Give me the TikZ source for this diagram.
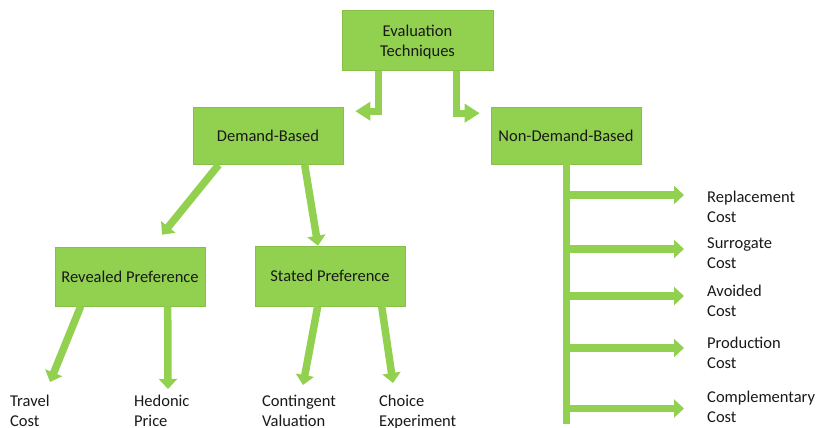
\documentclass[tikz,border=0pt]{standalone}
\usepackage{fontspec}
\setmainfont{Carlito}
\usetikzlibrary{arrows.meta,calc}
\definecolor{gr}{HTML}{92D050}
\definecolor{grb}{HTML}{86C046}
\begin{document}
\begin{tikzpicture}[x=1pt,y=-1pt,
  txt/.style={font=\fontsize{16.5}{20}\selectfont, text=black!90},
  box/.style={txt, fill=gr, draw=grb, line width=0.6pt, minimum width=150pt, minimum height=57pt, inner sep=0pt, align=center},
  lbl/.style={txt, anchor=north west, align=left, inner sep=0pt, execute at begin node=\strut},
  arr/.style={draw=gr, line width=7.5pt, -{Triangle[length=10pt,width=18pt]}},
  elarr/.style={draw=gr, line width=7pt, line join=miter, -{Triangle[length=15pt,width=18pt]}},
  vline/.style={draw=gr, line width=6.5pt},
]
\useasboundingbox (0,0) rectangle (817,428);

% boxes
\node[box, minimum width=151pt, minimum height=60pt] (et) at (417.5,40.5) {\strut Evaluation\\Techniques};
\node[box] (db) at (268,136) {Demand-Based};
\node[box] (ndb) at (566,135.5) {Non-Demand-Based};
\node[box, minimum height=59pt] (rp) at (130,276.5) {Revealed Preference};
\node[box, minimum height=60pt] (sp) at (330,276) {Stated Preference};

% leaf labels
\node[lbl] (tc) at (10,394.5) {Travel\\Cost};
\node[lbl] (hp) at (134,394.5) {Hedonic\\Price};
\node[lbl] (cv) at (262,394.5) {Contingent\\Valuation};
\node[lbl] (ce) at (379,394.5) {Choice\\Experiment};

\node[lbl] (rc) at (707,191) {Replacement\\Cost};
\node[lbl] (sc) at (707,238) {Surrogate\\Cost};
\node[lbl] (ac) at (707,285) {Avoided\\Cost};
\node[lbl] (pc) at (707,337) {Production\\Cost};
\node[lbl] (cc) at (707,390.5) {Complementary\\Cost};

% elbow arrows from Evaluation Techniques
\coordinate (dbtip) at ($(db.north east)+(12,4)$);
\coordinate (ndbtip) at ($(ndb.north west)+(-11,6.5)$);
\draw[elarr] ($(et.south west)+(36.5,0)$) |- (dbtip);
\draw[elarr] ($(et.south west)+(114.5,0)$) |- (ndbtip);

% arrows from Demand-Based
\draw[arr] ($(db.south west)+(26,0)$) -- ($(rp.north)+(32,-12)$);
\draw[arr] ($(db.south west)+(112,0)$) -- ($(sp.north)+(-12,0)$);

% arrows from Revealed / Stated Preference
\draw[arr] ($(rp.south west)+(26,0)$) -- ($(tc.north west)+(40,-12.5)$);
\draw[arr] ($(rp.south west)+(113,0)$) -- ($(hp.north west)+(34,-5.5)$);
\draw[arr] ($(sp.south west)+(63,0)$) -- ($(cv.north west)+(41,-9.5)$);
\draw[arr] ($(sp.south west)+(127,0)$) -- ($(ce.north west)+(14,-11.5)$);

% Non-Demand-Based trunk and branches
\coordinate (trtop) at ($(ndb.south west)+(76,0)$);
\coordinate (trbot) at ($(trtop)+(0,260)$);
\draw[vline] (trtop) -- (trbot);
\coordinate (t1) at ($(rc.north west)+(-23,4)$);
\coordinate (t2) at ($(sc.north west)+(-23,11)$);
\coordinate (t3) at ($(ac.north west)+(-23,11)$);
\coordinate (t4) at ($(pc.north west)+(-23,11)$);
\coordinate (t5) at ($(cc.north west)+(-23,18)$);
\foreach \t in {t1,t2,t3,t4,t5}
  \draw[arr] (trtop |- \t) -- (\t);
\end{tikzpicture}
\end{document}
